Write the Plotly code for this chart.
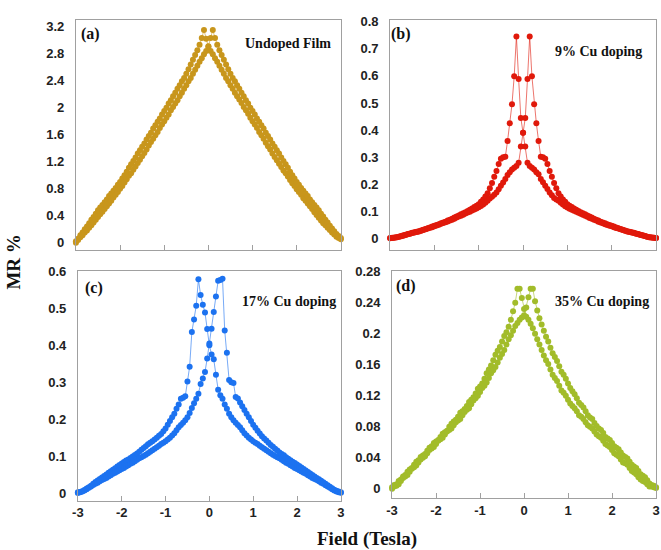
import plotly.graph_objects as go

W, H = 661, 550

# Shared field sweep grid (Tesla), -3.00 .. 3.00 step 0.05
FIELD = [
    -3.00, -2.95, -2.90, -2.85, -2.80, -2.75, -2.70, -2.65, -2.60, -2.55,
    -2.50, -2.45, -2.40, -2.35, -2.30, -2.25, -2.20, -2.15, -2.10, -2.05,
    -2.00, -1.95, -1.90, -1.85, -1.80, -1.75, -1.70, -1.65, -1.60, -1.55,
    -1.50, -1.45, -1.40, -1.35, -1.30, -1.25, -1.20, -1.15, -1.10, -1.05,
    -1.00, -0.95, -0.90, -0.85, -0.80, -0.75, -0.70, -0.65, -0.60, -0.55,
    -0.50, -0.45, -0.40, -0.35, -0.30, -0.25, -0.20, -0.15, -0.10, -0.05,
    0.00, 0.05, 0.10, 0.15, 0.20, 0.25, 0.30, 0.35, 0.40, 0.45,
    0.50, 0.55, 0.60, 0.65, 0.70, 0.75, 0.80, 0.85, 0.90, 0.95,
    1.00, 1.05, 1.10, 1.15, 1.20, 1.25, 1.30, 1.35, 1.40, 1.45,
    1.50, 1.55, 1.60, 1.65, 1.70, 1.75, 1.80, 1.85, 1.90, 1.95,
    2.00, 2.05, 2.10, 2.15, 2.20, 2.25, 2.30, 2.35, 2.40, 2.45,
    2.50, 2.55, 2.60, 2.65, 2.70, 2.75, 2.80, 2.85, 2.90, 2.95,
    3.00,
]

# (a) Undoped film
UNDOPED_DOWN = [
    0.02, 0.06, 0.11, 0.15, 0.20, 0.24, 0.29, 0.34, 0.38, 0.43,
    0.48, 0.52, 0.56, 0.60, 0.64, 0.69, 0.73, 0.77, 0.81, 0.86,
    0.90, 0.95, 1.00, 1.05, 1.11, 1.16, 1.21, 1.26, 1.32, 1.37,
    1.42, 1.47, 1.53, 1.58, 1.63, 1.69, 1.74, 1.79, 1.84, 1.90,
    1.95, 2.00, 2.06, 2.11, 2.17, 2.22, 2.28, 2.33, 2.39, 2.44,
    2.50, 2.57, 2.64, 2.71, 2.78, 2.85, 2.93, 3.03, 3.15, 3.02,
    2.90, 2.84, 2.79, 2.73, 2.68, 2.62, 2.56, 2.50, 2.44, 2.39,
    2.33, 2.28, 2.22, 2.17, 2.12, 2.07, 2.01, 1.96, 1.91, 1.85,
    1.80, 1.75, 1.70, 1.64, 1.59, 1.54, 1.48, 1.43, 1.38, 1.32,
    1.27, 1.22, 1.17, 1.12, 1.07, 1.03, 0.98, 0.93, 0.88, 0.84,
    0.79, 0.75, 0.71, 0.66, 0.62, 0.58, 0.54, 0.50, 0.45, 0.41,
    0.37, 0.33, 0.29, 0.26, 0.22, 0.19, 0.15, 0.12, 0.09, 0.07,
    0.05,
]
UNDOPED_UP = [
    0.00, 0.04, 0.08, 0.11, 0.15, 0.18, 0.22, 0.26, 0.30, 0.34,
    0.38, 0.42, 0.46, 0.50, 0.54, 0.58, 0.62, 0.67, 0.71, 0.75,
    0.80, 0.84, 0.89, 0.94, 0.99, 1.03, 1.08, 1.13, 1.18, 1.23,
    1.28, 1.33, 1.38, 1.44, 1.49, 1.54, 1.59, 1.64, 1.70, 1.75,
    1.80, 1.85, 1.90, 1.96, 2.01, 2.06, 2.11, 2.17, 2.22, 2.28,
    2.33, 2.39, 2.44, 2.50, 2.56, 2.62, 2.68, 2.73, 2.79, 2.84,
    2.91, 3.03, 3.15, 3.03, 2.93, 2.85, 2.78, 2.71, 2.64, 2.57,
    2.50, 2.44, 2.39, 2.33, 2.28, 2.22, 2.17, 2.11, 2.06, 2.00,
    1.95, 1.90, 1.84, 1.79, 1.74, 1.69, 1.63, 1.58, 1.53, 1.47,
    1.42, 1.37, 1.32, 1.26, 1.21, 1.16, 1.11, 1.05, 1.00, 0.95,
    0.90, 0.86, 0.81, 0.77, 0.73, 0.69, 0.64, 0.60, 0.56, 0.52,
    0.48, 0.43, 0.39, 0.34, 0.30, 0.25, 0.21, 0.17, 0.13, 0.10,
    0.07,
]

# (b) 9% Cu doping
CU9_DOWN = [
    0.003, 0.004, 0.005, 0.006, 0.008, 0.010, 0.013, 0.015, 0.018, 0.020,
    0.022, 0.024, 0.026, 0.028, 0.031, 0.033, 0.036, 0.039, 0.042, 0.045,
    0.048, 0.051, 0.054, 0.057, 0.060, 0.063, 0.067, 0.070, 0.074, 0.078,
    0.082, 0.086, 0.090, 0.094, 0.098, 0.102, 0.107, 0.112, 0.117, 0.122,
    0.127, 0.136, 0.145, 0.156, 0.168, 0.186, 0.205, 0.228, 0.250, 0.275,
    0.295, 0.300, 0.302, 0.360, 0.425, 0.495, 0.598, 0.745, 0.588, 0.445,
    0.390, 0.340, 0.280, 0.268, 0.262, 0.255, 0.245, 0.238, 0.220, 0.208,
    0.195, 0.183, 0.170, 0.160, 0.150, 0.145, 0.140, 0.133, 0.126, 0.120,
    0.115, 0.111, 0.107, 0.103, 0.100, 0.096, 0.092, 0.089, 0.085, 0.081,
    0.077, 0.074, 0.070, 0.067, 0.063, 0.060, 0.057, 0.054, 0.051, 0.048,
    0.046, 0.043, 0.040, 0.038, 0.035, 0.032, 0.030, 0.027, 0.025, 0.023,
    0.021, 0.019, 0.017, 0.014, 0.012, 0.010, 0.008, 0.006, 0.005, 0.004,
    0.003,
]
CU9_UP = [
    0.002, 0.003, 0.004, 0.006, 0.008, 0.009, 0.011, 0.014, 0.017, 0.019,
    0.021, 0.023, 0.025, 0.027, 0.030, 0.032, 0.035, 0.038, 0.041, 0.043,
    0.046, 0.049, 0.052, 0.055, 0.058, 0.061, 0.064, 0.067, 0.070, 0.074,
    0.078, 0.082, 0.085, 0.089, 0.093, 0.097, 0.100, 0.104, 0.108, 0.112,
    0.116, 0.121, 0.126, 0.133, 0.140, 0.148, 0.155, 0.162, 0.170, 0.182,
    0.195, 0.207, 0.220, 0.235, 0.245, 0.255, 0.262, 0.268, 0.280, 0.340,
    0.390, 0.445, 0.588, 0.745, 0.598, 0.495, 0.425, 0.360, 0.302, 0.300,
    0.295, 0.275, 0.250, 0.228, 0.205, 0.186, 0.168, 0.156, 0.145, 0.136,
    0.127, 0.122, 0.117, 0.112, 0.107, 0.102, 0.098, 0.094, 0.090, 0.086,
    0.082, 0.078, 0.074, 0.070, 0.067, 0.063, 0.060, 0.057, 0.054, 0.051,
    0.048, 0.045, 0.042, 0.039, 0.036, 0.033, 0.031, 0.028, 0.026, 0.024,
    0.022, 0.020, 0.018, 0.015, 0.013, 0.010, 0.008, 0.006, 0.005, 0.004,
    0.003,
]

# (c) 17% Cu doping
CU17_DOWN = [
    0.002, 0.003, 0.005, 0.008, 0.012, 0.016, 0.020, 0.025, 0.030, 0.034,
    0.038, 0.042, 0.046, 0.050, 0.055, 0.059, 0.063, 0.067, 0.072, 0.076,
    0.080, 0.084, 0.088, 0.091, 0.095, 0.099, 0.103, 0.107, 0.112, 0.117,
    0.122, 0.127, 0.132, 0.136, 0.140, 0.145, 0.150, 0.155, 0.160, 0.167,
    0.175, 0.185, 0.195, 0.205, 0.215, 0.228, 0.240, 0.255, 0.258, 0.262,
    0.302, 0.342, 0.436, 0.470, 0.507, 0.579, 0.536, 0.510, 0.489, 0.444,
    0.400, 0.375, 0.362, 0.320, 0.280, 0.265, 0.255, 0.240, 0.228, 0.215,
    0.205, 0.197, 0.190, 0.184, 0.178, 0.170, 0.162, 0.156, 0.150, 0.145,
    0.140, 0.136, 0.133, 0.128, 0.124, 0.120, 0.116, 0.112, 0.108, 0.104,
    0.100, 0.097, 0.094, 0.090, 0.086, 0.082, 0.079, 0.075, 0.072, 0.068,
    0.065, 0.062, 0.058, 0.055, 0.052, 0.048, 0.045, 0.041, 0.038, 0.035,
    0.032, 0.028, 0.025, 0.021, 0.018, 0.014, 0.010, 0.007, 0.004, 0.002,
    0.001,
]
CU17_UP = [
    0.000, 0.002, 0.004, 0.007, 0.010, 0.014, 0.018, 0.022, 0.025, 0.028,
    0.032, 0.035, 0.038, 0.041, 0.045, 0.048, 0.052, 0.055, 0.058, 0.062,
    0.065, 0.068, 0.072, 0.075, 0.079, 0.082, 0.086, 0.090, 0.094, 0.097,
    0.100, 0.104, 0.108, 0.112, 0.116, 0.120, 0.124, 0.128, 0.133, 0.136,
    0.140, 0.145, 0.150, 0.156, 0.162, 0.170, 0.178, 0.184, 0.190, 0.197,
    0.205, 0.217, 0.230, 0.243, 0.255, 0.269, 0.295, 0.310, 0.328, 0.364,
    0.405, 0.445, 0.490, 0.532, 0.575, 0.577, 0.580, 0.440, 0.380, 0.306,
    0.300, 0.298, 0.260, 0.256, 0.245, 0.235, 0.225, 0.215, 0.205, 0.195,
    0.185, 0.177, 0.169, 0.161, 0.154, 0.148, 0.142, 0.136, 0.130, 0.125,
    0.120, 0.115, 0.110, 0.106, 0.102, 0.097, 0.093, 0.089, 0.085, 0.081,
    0.077, 0.073, 0.069, 0.065, 0.061, 0.057, 0.053, 0.049, 0.045, 0.041,
    0.037, 0.033, 0.029, 0.025, 0.021, 0.017, 0.013, 0.009, 0.006, 0.004,
    0.002,
]

# (d) 35% Cu doping
CU35_DOWN = [
    0.002, 0.005, 0.006, 0.010, 0.012, 0.016, 0.018, 0.022, 0.025, 0.027,
    0.031, 0.035, 0.037, 0.041, 0.043, 0.045, 0.049, 0.053, 0.055, 0.059,
    0.061, 0.063, 0.067, 0.071, 0.073, 0.075, 0.080, 0.084, 0.087, 0.089,
    0.093, 0.098, 0.100, 0.103, 0.107, 0.112, 0.115, 0.118, 0.123, 0.129,
    0.132, 0.136, 0.142, 0.149, 0.154, 0.159, 0.166, 0.173, 0.178, 0.183,
    0.190, 0.197, 0.202, 0.209, 0.218, 0.229, 0.240, 0.258, 0.258, 0.246,
    0.232, 0.222, 0.218, 0.213, 0.207, 0.200, 0.193, 0.186, 0.179, 0.172,
    0.166, 0.161, 0.154, 0.147, 0.143, 0.139, 0.133, 0.127, 0.124, 0.120,
    0.115, 0.110, 0.107, 0.104, 0.100, 0.095, 0.093, 0.090, 0.086, 0.082,
    0.080, 0.078, 0.074, 0.070, 0.068, 0.066, 0.062, 0.058, 0.056, 0.054,
    0.050, 0.046, 0.044, 0.042, 0.038, 0.034, 0.033, 0.031, 0.027, 0.023,
    0.021, 0.019, 0.015, 0.012, 0.010, 0.009, 0.006, 0.003, 0.003, 0.002,
    0.001,
]
CU35_UP = [
    0.000, 0.003, 0.004, 0.006, 0.010, 0.014, 0.016, 0.018, 0.022, 0.026,
    0.028, 0.030, 0.034, 0.038, 0.040, 0.042, 0.046, 0.050, 0.052, 0.054,
    0.058, 0.062, 0.064, 0.066, 0.070, 0.074, 0.076, 0.078, 0.082, 0.086,
    0.088, 0.090, 0.095, 0.099, 0.102, 0.104, 0.109, 0.114, 0.117, 0.120,
    0.125, 0.130, 0.133, 0.137, 0.143, 0.149, 0.153, 0.157, 0.163, 0.169,
    0.174, 0.179, 0.186, 0.193, 0.198, 0.204, 0.210, 0.214, 0.218, 0.221,
    0.224, 0.234, 0.247, 0.258, 0.258, 0.242, 0.230, 0.220, 0.212, 0.204,
    0.196, 0.190, 0.182, 0.175, 0.170, 0.165, 0.158, 0.151, 0.147, 0.142,
    0.136, 0.130, 0.126, 0.122, 0.117, 0.111, 0.108, 0.105, 0.100, 0.095,
    0.092, 0.090, 0.085, 0.081, 0.078, 0.076, 0.072, 0.067, 0.065, 0.063,
    0.059, 0.055, 0.053, 0.051, 0.047, 0.043, 0.041, 0.039, 0.035, 0.031,
    0.029, 0.027, 0.023, 0.019, 0.017, 0.015, 0.011, 0.007, 0.005, 0.004,
    0.002,
]

X_TICKS = [-3, -2, -1, 0, 1, 2, 3]
Y_TICKS_A = [0, 0.4, 0.8, 1.2, 1.6, 2, 2.4, 2.8, 3.2]
Y_TICKS_B = [0, 0.1, 0.2, 0.3, 0.4, 0.5, 0.6, 0.7, 0.8]
Y_TICKS_C = [0, 0.1, 0.2, 0.3, 0.4, 0.5, 0.6]
Y_TICKS_D = [0, 0.04, 0.08, 0.12, 0.16, 0.2, 0.24, 0.28]

panels = [
    ("a", "(a)", "Undoped Film", UNDOPED_DOWN, UNDOPED_UP, "#C8961C", "rgba(200,150,28,0.6)",
     Y_TICKS_A, [-0.113, 3.30], (71, 340, 13, 246.5), False),
    ("b", "(b)", "9% Cu doping", CU9_DOWN, CU9_UP, "#E0190B", "rgba(224,25,11,0.6)",
     Y_TICKS_B, [-0.0425, 0.806], (390, 660, 13, 246.5), False),
    ("c", "(c)", "17% Cu doping", CU17_DOWN, CU17_UP, "#1C72F0", "rgba(28,114,240,0.6)",
     Y_TICKS_C, [-0.0206, 0.601], (73, 340, 267.5, 500), True),
    ("d", "(d)", "35% Cu doping", CU35_DOWN, CU35_UP, "#A2BC2A", "rgba(162,188,42,0.6)",
     Y_TICKS_D, [-0.012, 0.2808], (392, 660, 267.5, 497.5), True),
]

label_pos = {
    "a": ((74, 27), (286, 37)),
    "b": ((389, 27), (602, 45)),
    "c": ((78, 285), (287, 298)),
    "d": ((394, 283), (605, 298)),
}

fig = go.Figure()
layout = {}
annotations = []
axis_col = "#A0A0A0"
tick_font = dict(family="Liberation Sans, Arial, sans-serif", size=13, color="#222222", weight="bold")

for i, (key, lab, title, down, up, col, lcol, yt, yr, box, show_x) in enumerate(panels):
    n = "" if i == 0 else str(i + 1)
    xa, ya = "x" + n, "y" + n
    left, right, top, bottom = box
    for vals in (down, up):
        fig.add_trace(go.Scatter(
            x=FIELD, y=vals, xaxis=xa, yaxis=ya, mode="lines+markers",
            marker=dict(color=col, size=6, line=dict(width=0)),
            line=dict(color=lcol, width=1),
            cliponaxis=False, showlegend=False, hoverinfo="skip",
        ))
    layout["xaxis" + n] = dict(
        domain=[left / W, right / W], anchor=ya, range=[-3, 3],
        tickvals=X_TICKS, ticktext=[str(v) for v in X_TICKS],
        showticklabels=show_x, ticks="inside", ticklen=5, tickcolor=axis_col, tickwidth=1,
        showline=True, linecolor=axis_col, linewidth=1, mirror=True,
        showgrid=False, zeroline=False, tickfont=tick_font,
    )
    layout["yaxis" + n] = dict(
        domain=[1 - bottom / H, 1 - top / H], anchor=xa, range=yr,
        tickvals=yt, ticktext=[("%g" % v) for v in yt],
        ticks="", ticklabelstandoff=8,
        showline=True, linecolor=axis_col, linewidth=1, mirror=True,
        showgrid=False, zeroline=False, tickfont=tick_font,
    )
    (lx, ly), (tx, ty) = label_pos[key]
    annotations.append(dict(
        text="<b>%s</b>" % lab, xref="paper", yref="paper", x=lx / W, y=1 - ly / H,
        xanchor="left", yanchor="middle", showarrow=False,
        font=dict(family="Liberation Serif, Times New Roman, serif", size=16, color="#111111"),
    ))
    annotations.append(dict(
        text="<b>%s</b>" % title, xref="paper", yref="paper", x=tx / W, y=1 - ty / H,
        xanchor="center", yanchor="middle", showarrow=False,
        font=dict(family="Liberation Serif, Times New Roman, serif", size=14, color="#111111"),
    ))

annotations.append(dict(
    text="<b>MR %</b>", xref="paper", yref="paper", x=8 / W, y=1 - 258 / H,
    xanchor="center", yanchor="middle", textangle=-90, showarrow=False,
    font=dict(family="Liberation Serif, Times New Roman, serif", size=19, color="#111111"),
))
annotations.append(dict(
    text="<b>Field (Tesla)</b>", xref="paper", yref="paper", x=367 / W, y=1 - 539 / H,
    xanchor="center", yanchor="middle", showarrow=False,
    font=dict(family="Liberation Serif, Times New Roman, serif", size=19, color="#111111"),
))

fig.update_layout(
    width=W, height=H, margin=dict(l=0, r=0, t=0, b=0),
    paper_bgcolor="white", plot_bgcolor="white",
    annotations=annotations, showlegend=False,
    **layout,
)

fig.write_html(
    "out.html",
    config={"displayModeBar": False},
    post_script="document.body.style.margin='0';document.body.style.padding='0';",
)
